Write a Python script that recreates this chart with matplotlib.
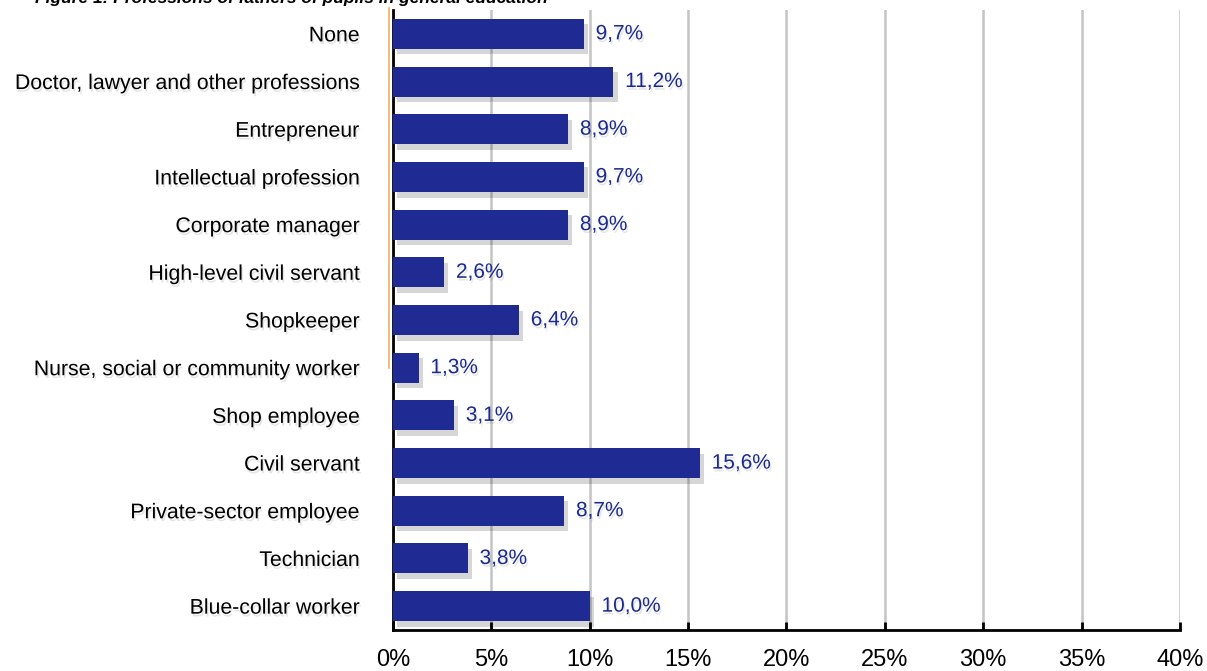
import matplotlib.pyplot as plt
import matplotlib.patheffects as pe

plt.rcParams['font.family'] = ['Liberation Sans', 'DejaVu Sans']

categories = ["None", "Doctor, lawyer and other professions", "Entrepreneur",
              "Intellectual profession", "Corporate manager", "High-level civil servant",
              "Shopkeeper", "Nurse, social or community worker", "Shop employee",
              "Civil servant", "Private-sector employee", "Technician", "Blue-collar worker"]
values = [9.7, 11.2, 8.9, 9.7, 8.9, 2.6, 6.4, 1.3, 3.1, 15.6, 8.7, 3.8, 10.0]
xticks = [0, 5, 10, 15, 20, 25, 30, 35, 40]

fig = plt.figure(figsize=(12.07, 6.71), dpi=100)
ax = fig.add_axes([0.3256, 0.0611, 0.652, 0.924])

ypos = list(range(len(categories)))
bar_shadow = [pe.SimplePatchShadow(offset=(3, -4), shadow_rgbFace="black", alpha=0.16), pe.Normal()]
bars = ax.barh(ypos, values, height=0.63, color="#1f2b92", zorder=3)
for b in bars:
    b.set_path_effects(bar_shadow)

# soft drop shadow under the texts
soft = [pe.SimplePatchShadow(offset=(1, -2), shadow_rgbFace="black", alpha=0.1), pe.Normal()]
for y, v in zip(ypos, values):
    ax.text(v + 0.6, y, ("%.1f%%" % v).replace(".", ","), va="center", ha="left",
            color="#1a2a8c", fontsize=15, zorder=4, path_effects=soft)

ax.set_ylim(len(categories) - 0.5, -0.5)
ax.set_xlim(0, 40)
ax.set_yticks(ypos)
ax.set_yticklabels(categories, fontsize=15.3)
ax.set_xticks(xticks)
ax.set_xticklabels(["%d%%" % t for t in xticks], fontsize=17)
ax.tick_params(axis="y", length=0, pad=24)
ax.tick_params(axis="x", length=6, width=2, direction="in", pad=14)
for lbl in ax.get_yticklabels():
    lbl.set_path_effects(soft)
ax.xaxis.grid(True, color="#c4c4c4", linewidth=1.8, zorder=0)
ax.set_axisbelow(True)
for s in ["top", "right"]:
    ax.spines[s].set_visible(False)
ax.spines["left"].set_linewidth(2)
ax.spines["bottom"].set_linewidth(2)

# thin orange marker left of axis
ax.plot([-0.2, -0.2], [-0.55, 7.0], color="#f0b060", linewidth=1.2, clip_on=False)

fig.text(0.029, 0.996, "Figure 1: Professions of fathers of pupils in general education",
         fontsize=12.5, fontweight="bold", fontstyle="italic", va="baseline")

fig.savefig("out.png", dpi=100)
